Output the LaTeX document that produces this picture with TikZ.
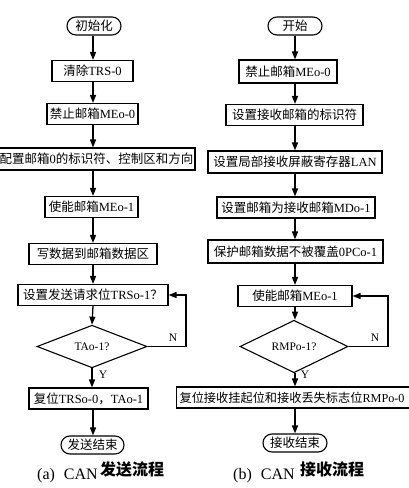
\documentclass[tikz,border=0pt]{standalone}
\usepackage{fontspec}
\setmainfont{Liberation Serif}
\newfontfamily\cjk{Noto Sans CJK SC}
\usetikzlibrary{arrows.meta,shapes.geometric}
\newcommand{\zh}[1]{{\cjk #1}}
\begin{document}
\begin{tikzpicture}[x=1pt,y=-1pt,
  box/.style={draw, line width=1.1pt, minimum height=21pt, inner sep=0pt, font=\fontsize{12.5}{14}\selectfont},
  term/.style={draw, line width=1.1pt, rounded corners=9pt, minimum height=18pt, inner sep=0pt, font=\fontsize{12.5}{14}\selectfont},
  dec/.style={draw, diamond, line width=1.1pt, inner sep=0pt, minimum width=110pt, minimum height=33pt, font=\fontsize{11.5}{13}\selectfont},
  arr/.style={line width=1.3pt, line join=miter, -{Triangle[length=8pt,width=6pt]}},
  lab/.style={font=\fontsize{11.5}{13}\selectfont, inner sep=0pt},
  captxt/.style={font=\fontsize{16}{18}\selectfont, inner sep=0pt, anchor=west}]
\fill[white] (0,0) rectangle (409,488);
\useasboundingbox (0,0) rectangle (409,488);
\coordinate (colL) at (93,0);
\coordinate (colR) at (295,0);
\coordinate (fbL) at (186,0);
\coordinate (fbR) at (388,0);
% left column
\node[term, minimum width=54pt] (l0) at (94,26) {\zh{初始化}};
\node[box, minimum width=81pt] (l1) at (92.5,71) {\zh{清除}TRS-0};
\node[box, minimum width=91pt] (l2) at (92.5,114) {\zh{禁止邮箱}MEo-0};
\node[box, minimum width=197pt, minimum height=22pt] (l3) at (96.5,159) {\zh{配置邮箱}0\zh{的标识符、控制区和方向}};
\node[box, minimum width=93pt] (l4) at (91.5,207) {\zh{使能邮箱}MEo-1};
\node[box, minimum width=128pt] (l5) at (93,254) {\zh{写数据到邮箱数据区}};
\node[box, minimum width=150pt] (l6) at (93,295) {\zh{设置发送请求位}TRSo-1\zh{？}};
\node[dec] (l7) at (92,346.5) {TAo-1?};
\node[box, minimum width=119pt] (l8) at (88.5,398.5) {\zh{复位}TRSo-0\zh{，}TAo-1};
\node[term, minimum width=63pt] (l9) at (92.5,445) {\zh{发送结束}};
% right column
\node[term, minimum width=54pt] (r0) at (295,26) {\zh{开始}};
\node[box, minimum width=98pt, minimum height=23pt] (r1) at (288,71.5) {\zh{禁止邮箱}MEo-0};
\node[box, minimum width=137pt] (r2) at (294.5,115) {\zh{设置接收邮箱的标识符}};
\node[box, minimum width=174pt, minimum height=22pt] (r3) at (295,162) {\zh{设置局部接收屏蔽寄存器}LAN};
\node[box, minimum width=158pt] (r4) at (296,207.5) {\zh{设置邮箱为接收邮箱}MDo-1};
\node[box, minimum width=175pt, minimum height=23pt] (r5) at (295.5,251.5) {\zh{保护邮箱数据不被覆盖}0PCo-1};
\node[box, minimum width=114pt] (r6) at (295,296) {\zh{使能邮箱}MEo-1};
\node[dec, minimum width=108pt] (r7) at (294,346.5) {RMPo-1?};
\node[box, anchor=west, text width=240pt, align=left, inner xsep=3pt, font=\fontsize{12.2}{14}\selectfont] (r8) at (176,397.5) {\zh{复位接收挂起位和接收丢失标志位}RMPo-0};
\node[term, minimum width=64pt] (r9) at (295,443) {\zh{接收结束}};
% left connectors
\draw[arr] (l0.south -| colL) -- (l1.north -| colL);
\draw[arr] (l1.south -| colL) -- (l2.north -| colL);
\draw[arr] (l2.south -| colL) -- (l3.north -| colL);
\draw[arr] (l3.south -| colL) -- (l4.north -| colL);
\draw[arr] (l4.south -| colL) -- (l5.north -| colL);
\draw[arr] (l5.south -| colL) -- (l6.north -| colL);
\draw[arr] (l6.south -| colL) -- (l7.north);
\draw[arr] (l7.south) -- (l8.north -| l7.south);
\draw[arr] (l8.south -| colL) -- (l9.north -| colL);
\draw[arr] (l7.east) -- (l7.east -| fbL) -- (l6.east -| fbL) -- (l6.east);
% right connectors
\draw[arr] (r0.south -| colR) -- (r1.north -| colR);
\draw[arr] (r1.south -| colR) -- (r2.north -| colR);
\draw[arr] (r2.south -| colR) -- (r3.north -| colR);
\draw[arr] (r3.south -| colR) -- (r4.north -| colR);
\draw[arr] (r4.south -| colR) -- (r5.north -| colR);
\draw[arr] (r5.south -| colR) -- (r6.north -| colR);
\draw[arr] (r6.south -| colR) -- (r7.north -| colR);
\draw[arr] (r7.south -| colR) -- (r8.north -| colR);
\draw[arr] (r8.south -| colR) -- (r9.north -| colR);
\draw[arr] (r7.east) -- (r7.east -| fbR) -- (r6.east -| fbR) -- (r6.east);
% labels
\node[lab] (nL) at (173,338) {N};
\node[lab] (yL) at (103,375) {Y};
\node[lab] (nR) at (375,338) {N};
\node[lab] (yR) at (305,375) {Y};
% captions
\node[captxt] (ca1) at (37,476) {(a)\hspace{9pt}CAN};
\node[captxt] (ca2) at (100,469) {\cjk\bfseries 发送流程};
\node[captxt] (cb1) at (233,476) {(b)\hspace{9pt}CAN};
\node[captxt] (cb2) at (300,469) {\cjk\bfseries 接收流程};
\end{tikzpicture}
\end{document}
